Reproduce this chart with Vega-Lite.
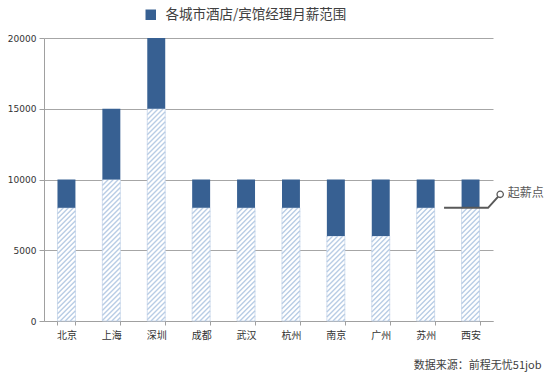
{
  "$schema": "https://vega.github.io/schema/vega-lite/v6.json",
  "width": 449,
  "height": 283,
  "autosize": {"type": "none"},
  "padding": {"left": 44, "top": 38, "right": 61, "bottom": 55},
  "background": "white",
  "config": {
    "view": {"stroke": null},
    "axis": {"domainColor": "#a0a0a0", "tickColor": "#a0a0a0", "gridColor": "#a6a6a6", "labelColor": "#333333", "titleColor": "#404040"},
    "axisY": {"grid": true, "gridWidth": 1, "tickSize": 5, "labelFont": "DejaVu Sans", "labelFontSize": 9, "labelPadding": 3},
    "axisX": {"grid": false, "tickSize": 4, "labelFont": "Noto Sans CJK SC", "labelFontSize": 10, "labelPadding": 5, "labelAngle": 0}
  },
  "layer": [
    {
      "data": {
        "values": [
          {"city": "北京", "start": 8000, "end": 10000},
          {"city": "上海", "start": 10000, "end": 15000},
          {"city": "深圳", "start": 15000, "end": 20000},
          {"city": "成都", "start": 8000, "end": 10000},
          {"city": "武汉", "start": 8000, "end": 10000},
          {"city": "杭州", "start": 8000, "end": 10000},
          {"city": "南京", "start": 6000, "end": 10000},
          {"city": "广州", "start": 6000, "end": 10000},
          {"city": "苏州", "start": 8000, "end": 10000},
          {"city": "西安", "start": 8000, "end": 10000}
        ]
      },
      "layer": [
        {
          "mark": {"type": "bar", "fill": "white", "stroke": "#c6d6ea", "strokeWidth": 0.8},
          "encoding": {
            "x": {
              "field": "city", "type": "nominal", "sort": null,
              "scale": {"paddingInner": 0.6, "paddingOuter": 0.3},
              "axis": {
                "tickBand": "extent",
                "title": "数据来源：前程无忧51job",
                "titleFont": "Noto Sans CJK SC",
                "titleFontSize": 11,
                "titleFontWeight": "normal",
                "titleColor": "#404040",
                "titleAnchor": "end",
                "titleAlign": "right",
                "titleBaseline": "middle",
                "titleX": 497,
                "titleY": 44
              }
            },
            "y": {
              "field": "start", "type": "quantitative", "stack": null,
              "scale": {"domain": [0, 20000], "nice": false},
              "axis": {"values": [0, 5000, 10000, 15000, 20000], "format": "d", "title": null}
            }
          }
        },
        {
          "mark": {"type": "point", "filled": false, "size": 4, "stroke": "#b9cde5", "strokeWidth": 1.4, "opacity": 1},
          "encoding": {
            "x": {"field": "city", "type": "nominal", "sort": null},
            "y": {"field": "start", "type": "quantitative"},
            "shape": {
              "field": "start", "type": "nominal", "legend": null,
              "scale": {
                "domain": [6000, 8000, 10000, 15000],
                "range": [
                  "M-9,1L-8,0M-9,6L-3,0M-9,11L2,0M-9,16L7,0M-9,21l18,-18m-18,23l18,-18m-18,23l18,-18m-18,23l18,-18m-18,23l18,-18m-18,23l18,-18m-18,23l18,-18m-18,23l18,-18m-18,23l18,-18m-18,23l18,-18m-18,23l18,-18m-18,23l18,-18m-18,23l18,-18M-7.9,84.9L9,68M-2.9,84.9L9,73M2.1,84.9L9,78M7.1,84.9L9,83",
                  "M-9,1L-8,0M-9,6L-3,0M-9,11L2,0M-9,16L7,0M-9,21l18,-18m-18,23l18,-18m-18,23l18,-18m-18,23l18,-18m-18,23l18,-18m-18,23l18,-18m-18,23l18,-18m-18,23l18,-18m-18,23l18,-18m-18,23l18,-18m-18,23l18,-18m-18,23l18,-18m-18,23l18,-18m-18,23l18,-18m-18,23l18,-18m-18,23l18,-18m-18,23l18,-18m-18,23l18,-18m-18,23l18,-18M-6.2,113.2L9,98M-1.2,113.2L9,103M3.8,113.2L9,108M8.8,113.2L9,113",
                  "M-9,1L-8,0M-9,6L-3,0M-9,11L2,0M-9,16L7,0M-9,21l18,-18m-18,23l18,-18m-18,23l18,-18m-18,23l18,-18m-18,23l18,-18m-18,23l18,-18m-18,23l18,-18m-18,23l18,-18m-18,23l18,-18m-18,23l18,-18m-18,23l18,-18m-18,23l18,-18m-18,23l18,-18m-18,23l18,-18m-18,23l18,-18m-18,23l18,-18m-18,23l18,-18m-18,23l18,-18m-18,23l18,-18m-18,23l18,-18m-18,23l18,-18m-18,23l18,-18m-18,23l18,-18m-18,23l18,-18m-18,23l18,-18M-4.5,141.5L9,128M0.5,141.5L9,133M5.5,141.5L9,138",
                  "M-9,1L-8,0M-9,6L-3,0M-9,11L2,0M-9,16L7,0M-9,21l18,-18m-18,23l18,-18m-18,23l18,-18m-18,23l18,-18m-18,23l18,-18m-18,23l18,-18m-18,23l18,-18m-18,23l18,-18m-18,23l18,-18m-18,23l18,-18m-18,23l18,-18m-18,23l18,-18m-18,23l18,-18m-18,23l18,-18m-18,23l18,-18m-18,23l18,-18m-18,23l18,-18m-18,23l18,-18m-18,23l18,-18m-18,23l18,-18m-18,23l18,-18m-18,23l18,-18m-18,23l18,-18m-18,23l18,-18m-18,23l18,-18m-18,23l18,-18m-18,23l18,-18m-18,23l18,-18m-18,23l18,-18m-18,23l18,-18m-18,23l18,-18m-18,23l18,-18m-18,23l18,-18m-18,23l18,-18m-18,23l18,-18m-18,23l18,-18m-18,23l18,-18m-18,23l18,-18m-18,23l18,-18M-5.25,212.25L9,198M-0.25,212.25L9,203M4.75,212.25L9,208"
                ]
              }
            }
          }
        },
        {
          "mark": {"type": "bar"},
          "encoding": {
            "x": {"field": "city", "type": "nominal", "sort": null},
            "y": {"field": "start", "type": "quantitative"},
            "y2": {"field": "end"},
            "color": {
              "datum": "各城市酒店/宾馆经理月薪范围",
              "type": "nominal",
              "scale": {"range": ["#376092"]},
              "legend": {
                "orient": "none",
                "legendX": 100,
                "legendY": -30,
                "title": null,
                "padding": 0,
                "symbolType": "square",
                "symbolSize": 110,
                "symbolStrokeWidth": 0,
                "labelFont": "Noto Sans CJK SC",
                "labelFontSize": 13.5,
                "labelColor": "#404040",
                "labelOffset": 8,
                "labelLimit": 400
              }
            }
          }
        }
      ]
    },
    {
      "layer": [
        {
          "data": {"values": [{"ax": 8.91, "ay": 8000}, {"ax": 9.89, "ay": 8000}, {"ax": 10.16, "ay": 8950}]},
          "mark": {"type": "line", "color": "#595959", "strokeWidth": 2, "clip": false},
          "encoding": {
            "x": {"field": "ax", "type": "quantitative", "scale": {"domain": [0, 10], "nice": false, "zero": false}, "axis": null},
            "y": {"field": "ay", "type": "quantitative", "scale": {"domain": [0, 20000]}}
          }
        },
        {
          "data": {"values": [{"ax": 10.16, "ay": 8950}]},
          "mark": {"type": "point", "filled": false, "fill": "white", "stroke": "#595959", "strokeWidth": 1.3, "size": 40, "opacity": 1, "clip": false},
          "encoding": {
            "x": {"field": "ax", "type": "quantitative"},
            "y": {"field": "ay", "type": "quantitative"}
          }
        },
        {
          "data": {"values": [{"ax": 10.33, "ay": 9050, "label": "起薪点"}]},
          "mark": {"type": "text", "align": "left", "baseline": "middle", "font": "Noto Sans CJK SC", "fontSize": 12, "color": "#595959", "clip": false},
          "encoding": {
            "x": {"field": "ax", "type": "quantitative"},
            "y": {"field": "ay", "type": "quantitative"},
            "text": {"field": "label"}
          }
        }
      ]
    }
  ],
  "resolve": {"scale": {"x": "independent"}, "axis": {"x": "independent"}}
}
